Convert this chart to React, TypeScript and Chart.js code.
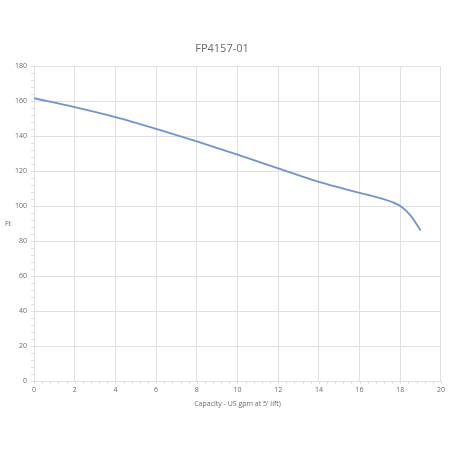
import React, { useEffect, useRef } from "react";
import { Chart, registerables } from "chart.js";

Chart.register(...registerables);

const chartTitle = "FP4157-01";
const xAxisTitle = "Capacity - US gpm at 5' lift)";
const yAxisTitle = "Ft";
const capacity = [0, 2, 4, 6, 8, 10, 12, 14, 16, 17, 18, 18.5, 19];
const head = [161.7, 156.6, 150.9, 144.2, 137, 129.5, 121.6, 113.8, 107.6, 104.6, 100, 94.7, 86];
const xMin = 0, xMax = 20, xStep = 2, xMinor = 0.4;
const yMin = 0, yMax = 180, yStep = 20, yMinor = 4;

const FONT = "'Open Sans', sans-serif";
const GRID = "#e0e0e0";
const TEXT = "#6a6a6a";

const extrasPlugin = {
  id: "extras",
  afterDraw(chart: any) {
    const { ctx, chartArea, scales } = chart;
    const xs = scales.x, ys = scales.y;
    ctx.save();
    ctx.strokeStyle = GRID;
    ctx.lineWidth = 1;
    ctx.beginPath();
    for (let v = yMin; v <= yMax + 1e-9; v += yMinor) {
      const y = Math.round(ys.getPixelForValue(v)) + 0.5;
      ctx.moveTo(chartArea.left - 3, y);
      ctx.lineTo(chartArea.left, y);
    }
    for (let v = xMin; v <= xMax + 1e-9; v += xMinor) {
      const x = Math.round(xs.getPixelForValue(v)) + 0.5;
      ctx.moveTo(x, chartArea.bottom);
      ctx.lineTo(x, chartArea.bottom + 3);
    }
    ctx.stroke();
    ctx.fillStyle = TEXT;
    ctx.font = `7px ${FONT}`;
    ctx.textAlign = "left";
    ctx.textBaseline = "middle";
    ctx.fillText(yAxisTitle, 5, (chartArea.top + chartArea.bottom) / 2);
    ctx.restore();
  },
};

export default function App() {
  const ref = useRef<HTMLCanvasElement>(null);
  useEffect(() => {
    if (!ref.current) return;
    const chart = new Chart(ref.current, {
      type: "line",
      data: {
        datasets: [
          {
            data: capacity.map((x, i) => ({ x, y: head[i] })),
            borderColor: "#7094d0",
            borderWidth: 1.8,
            pointRadius: 0,
            cubicInterpolationMode: "monotone",
            fill: false,
          },
        ],
      },
      options: {
        animation: false,
        responsive: false,
        maintainAspectRatio: false,
        layout: { padding: { left: 0, right: 6, top: 0, bottom: 42 } },
        plugins: {
          legend: { display: false },
          tooltip: { enabled: false },
          title: {
            display: true,
            text: chartTitle,
            color: TEXT,
            font: { family: FONT, size: 11, weight: "normal" },
            padding: { top: 42, bottom: 11 },
          },
        },
        scales: {
          x: {
            type: "linear",
            min: xMin,
            max: xMax,
            ticks: { stepSize: xStep, color: TEXT, font: { family: FONT, size: 7 }, padding: 5, maxRotation: 0 },
            grid: { color: GRID, drawTicks: false },
            border: { color: GRID },
            title: { display: true, text: xAxisTitle, color: TEXT, font: { family: FONT, size: 7 }, padding: { top: 4, bottom: 0 } },
            afterFit: (s: any) => { s.height = 27; },
          },
          y: {
            type: "linear",
            min: yMin,
            max: yMax,
            ticks: { stepSize: yStep, color: TEXT, font: { family: FONT, size: 7 }, padding: 7 },
            grid: { color: GRID, drawTicks: false },
            border: { color: GRID },
            afterFit: (s: any) => { s.width = 34; },
          },
        },
      },
      plugins: [extrasPlugin],
    });
    return () => chart.destroy();
  }, []);
  return (
    <div style={{ position: "fixed", left: 0, top: 0, width: 450, height: 450, background: "#fff" }}>
      <canvas ref={ref} width={450} height={450} />
    </div>
  );
}
